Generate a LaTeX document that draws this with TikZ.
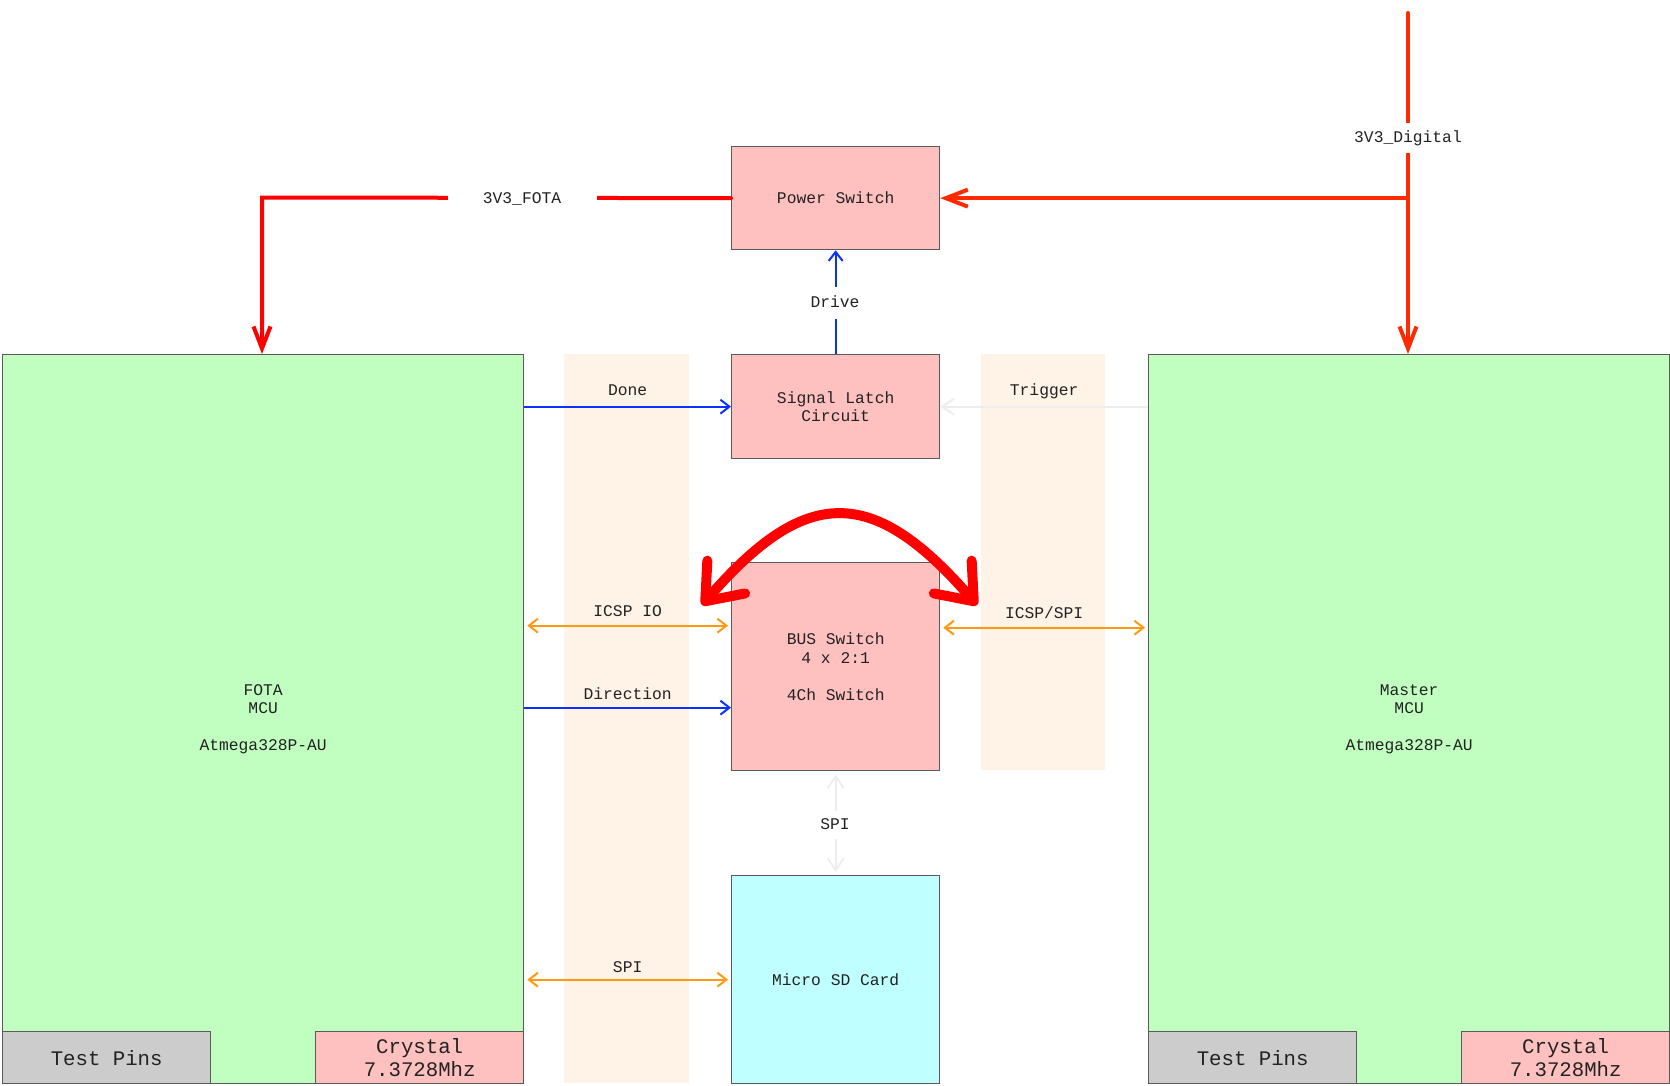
\documentclass[tikz,border=0pt]{standalone}
\usepackage{fontspec}
\setmonofont{Liberation Mono}
\usetikzlibrary{arrows.meta}
\definecolor{mcugreen}{HTML}{C0FFC0}
\definecolor{blkpink}{HTML}{FFC0C0}
\definecolor{sdcyan}{HTML}{C0FFFF}
\definecolor{pingray}{HTML}{CCCCCC}
\definecolor{bandbeige}{HTML}{FFF2E6}
\definecolor{bordergray}{HTML}{5A5A5A}
\definecolor{sigblue}{HTML}{0A32FF}
\definecolor{busorange}{HTML}{FF9A10}
\definecolor{ghost}{HTML}{EEEEEE}
\definecolor{pwrred}{HTML}{FF0000}
\definecolor{pwrorange}{HTML}{FF2A00}
\definecolor{txt}{HTML}{222222}
\tikzset{
  blk/.style={draw=bordergray, line width=1.3pt, anchor=north west, align=center, text=txt, inner sep=0pt},
  bigtxt/.style={font=\ttfamily\fontsize{20.7}{22.4}\selectfont},
  lbl/.style={text=txt, inner sep=0pt, text height=11pt, text depth=3pt},
  gaplbl/.style={lbl, fill=white},
  pwrA/.style={draw=pwrred, line width=4pt, line cap=round, -{Straight Barb[length=22pt,width=17pt]}},
  pwrB/.style={draw=pwrorange, line width=4pt, line cap=round, -{Straight Barb[length=22pt,width=17pt]}},
  bluesig/.style={draw=sigblue, line width=2pt, -{Straight Barb[length=9pt,width=14pt]}},
  ghostsig/.style={draw=ghost, line width=2pt, -{Straight Barb[length=12pt,width=16pt]}},
  busline/.style={draw=busorange, line width=2pt, {Straight Barb[length=9pt,width=14pt]}-{Straight Barb[length=9pt,width=14pt]}, shorten <=3pt, shorten >=3pt},
  swapcurve/.style={draw=pwrred, line width=10pt, line cap=round,
     {Straight Barb[length=32pt,width=50pt,line cap=round,line join=round]}-{Straight Barb[length=32pt,width=50pt,line cap=round,line join=round]}}
}
\begin{document}
\begin{tikzpicture}[x=1pt,y=-1pt,font=\ttfamily\fontsize{16.3}{18.6}\selectfont]
\useasboundingbox (0,0) rectangle (1670,1085);
% bands
\fill[bandbeige] (564,354) rectangle (689,1083);
\fill[bandbeige] (981,354) rectangle (1105,770);
% boxes
\node[blk, fill=mcugreen, minimum width=521pt, minimum height=729pt] (fota) at (2,354) {FOTA\\MCU\\[18.6pt]Atmega328P-AU};
\node[blk, fill=mcugreen, minimum width=521pt, minimum height=729pt] (master) at (1148,354) {Master\\MCU\\[18.6pt]Atmega328P-AU};
\node[blk, fill=blkpink, minimum width=208pt, minimum height=103pt] (ps) at (731,146) {Power Switch};
\node[blk, fill=blkpink, minimum width=208pt, minimum height=104pt] (sl) at (731,354) {Signal Latch\\Circuit};
\node[blk, fill=blkpink, minimum width=208pt, minimum height=208pt] (bus) at (731,562) {BUS Switch\\4 x 2:1\\[18.6pt]4Ch Switch};
\node[blk, fill=sdcyan, minimum width=208pt, minimum height=208pt] (sd) at (731,875) {Micro SD Card};
\node[blk, bigtxt, fill=pingray, minimum width=208pt, minimum height=52pt] (tp1) at (2,1031) {Test Pins};
\node[blk, bigtxt, fill=blkpink, minimum width=208pt, minimum height=52pt] (cr1) at (315,1031) {Crystal\\7.3728Mhz};
\node[blk, bigtxt, fill=pingray, minimum width=208pt, minimum height=52pt] (tp2) at (1148,1031) {Test Pins};
\node[blk, bigtxt, fill=blkpink, minimum width=208pt, minimum height=52pt] (cr2) at (1461,1031) {Crystal\\7.3728Mhz};
% power lines
\coordinate (dtop) at (1408,13);
\coordinate (dj) at (dtop |- ps.east);
\draw[pwrB] (dtop) -- (master.north -| dtop);
\draw[pwrB] (dj) -- (ps.east);
\node[gaplbl, inner ysep=8pt, inner xsep=4pt] (l3d) at (1408,138) {3V3\_Digital};
\coordinate (fc) at (262,197.5);
\draw[pwrA] (ps.west) -- (fc) -- (fota.north -| fc);
\node[gaplbl, minimum width=149pt, minimum height=12pt] (l3f) at (522,199) {3V3\_FOTA};
% drive
\draw[bluesig] (sl.north) -- (ps.south);
\node[gaplbl, inner ysep=9pt, inner xsep=3pt] (ldrive) at (835,303) {Drive};
% done / trigger
\draw[bluesig] (sl.west -| fota.east) -- (sl.west) node[lbl, midway, yshift=15pt] (ldone) {Done};
\draw[ghostsig] (sl.east -| master.west) -- (sl.east) node[lbl, midway, yshift=15pt] (ltrig) {Trigger};
% ICSP / direction
\draw[busline] ([yshift=41pt]bus.west -| fota.east) -- ([yshift=41pt]bus.west) node[lbl, midway, yshift=13pt] (licsp) {ICSP IO};
\draw[bluesig] ([yshift=-41pt]bus.west -| fota.east) -- ([yshift=-41pt]bus.west) node[lbl, midway, yshift=12pt] (ldir) {Direction};
\draw[busline] ([yshift=39pt]bus.east) -- ([yshift=39pt]bus.east -| master.west) node[lbl, midway, yshift=13pt] (licspspi) {ICSP/SPI};
% SPI
\draw[busline] (sd.west -| fota.east) -- (sd.west) node[lbl, midway, yshift=11pt] (lspi) {SPI};
\draw[draw=ghost, line width=2pt, {Straight Barb[length=12pt,width=16pt]}-{Straight Barb[length=12pt,width=16pt]}, shorten <=3pt, shorten >=3pt] (bus.south) -- (sd.north);
\node[gaplbl, inner ysep=7pt, inner xsep=3pt] (lspiv) at (835,825) {SPI};
% swap curve
\coordinate (cl) at (702,605);
\coordinate (cr) at (977,605);
\coordinate (cc1) at (806,485);
\coordinate (cc2) at (873,485);
\draw[swapcurve] (cl) .. controls (cc1) and (cc2) .. (cr);
\end{tikzpicture}
\end{document}
